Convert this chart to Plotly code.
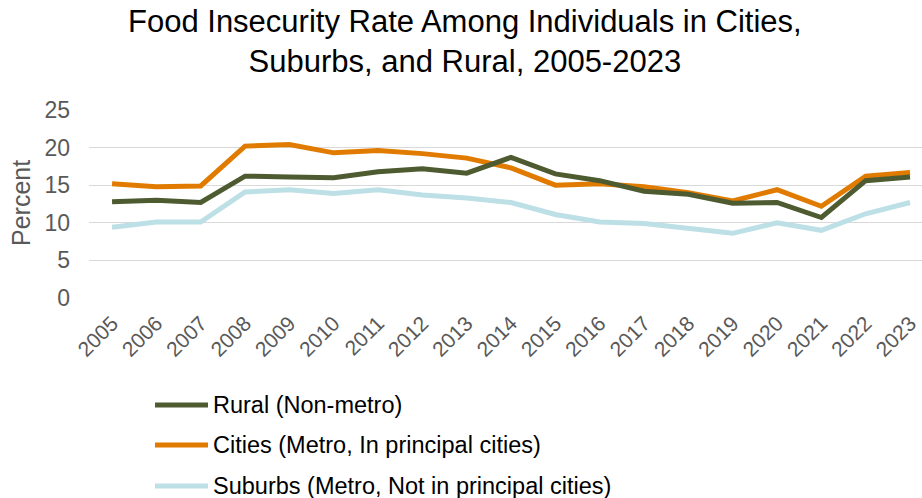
import plotly.graph_objects as go

# Food insecurity rate (percent of individuals) by residence area
years = list(range(2005, 2024))
rural = [12.8, 13.0, 12.7, 16.2, 16.1, 16.0, 16.8, 17.2, 16.6, 18.7,
         16.5, 15.6, 14.2, 13.8, 12.6, 12.7, 10.7, 15.6, 16.1]
cities = [15.2, 14.8, 14.9, 20.2, 20.4, 19.3, 19.6, 19.2, 18.6, 17.3,
          15.0, 15.2, 14.8, 14.0, 12.9, 14.4, 12.2, 16.2, 16.7]
suburbs = [9.4, 10.1, 10.1, 14.1, 14.4, 13.9, 14.4, 13.7, 13.3, 12.7,
           11.1, 10.1, 9.9, 9.2, 8.6, 10.0, 9.0, 11.2, 12.7]

series_names = ["Rural (Non-metro)",
                "Cities (Metro, In principal cities)",
                "Suburbs (Metro, Not in principal cities)"]
series_values = [rural, cities, suburbs]
series_colors = ["#4E5B31", "#E07B00", "#BDDFE6"]

TITLE = ("Food Insecurity Rate Among Individuals in Cities,<br>"
         "Suburbs, and Rural, 2005-2023")

W, H = 922, 498
L, R, T, B = 89, 0, 110, 200
PW, PH = W - L - R, H - T - B

FONT = "Liberation Sans, Arial, sans-serif"
GREY = "#595959"

fig = go.Figure()
# draw the lightest line first so the darker ones sit on top
for name, vals, col in reversed(list(zip(series_names, series_values, series_colors))):
    fig.add_trace(go.Scatter(
        x=years, y=vals, name=name, mode="lines",
        line=dict(color=col, width=5), showlegend=False,
    ))


def px_x(px):
    return (px - L) / PW


def px_y(py):
    return (H - B - py) / PH


# legend: line swatch plus label for each series
legend_rows = [405, 445, 486]
shapes, annotations = [], []
for name, col, ry in zip(series_names, series_colors, legend_rows):
    shapes.append(dict(type="line", xref="paper", yref="paper",
                       x0=px_x(155), x1=px_x(208), y0=px_y(ry), y1=px_y(ry),
                       line=dict(color=col, width=5)))
    annotations.append(dict(xref="paper", yref="paper", x=px_x(211), y=px_y(ry),
                            text=name, showarrow=False, xanchor="left",
                            yanchor="middle",
                            font=dict(family=FONT, size=23.5, color="#000000")))

# y-axis title
annotations.append(dict(xref="paper", yref="paper", x=px_x(21), y=px_y(203),
                        text="Percent", showarrow=False, textangle=-90,
                        xanchor="center", yanchor="middle",
                        font=dict(family=FONT, size=25, color=GREY)))

# chart title, centred on the full width
annotations.append(dict(xref="paper", yref="paper", x=px_x(W / 2 + 4), y=px_y(2),
                        text=TITLE, showarrow=False, xanchor="center",
                        yanchor="top", align="center",
                        font=dict(family=FONT, size=31, color="#000000")))

fig.update_layout(
    width=W, height=H,
    margin=dict(l=L, r=R, t=T, b=B, pad=0),
    paper_bgcolor="white", plot_bgcolor="white",
    shapes=shapes, annotations=annotations,
    showlegend=False,
)
fig.update_xaxes(
    range=[2004.48, 2023.27], tickmode="array", tickvals=years,
    ticktext=[str(y) for y in years], tickangle=-45,
    tickfont=dict(family=FONT, size=21, color=GREY),
    showgrid=False, zeroline=False, showline=False, ticks="",
    ticklabelstandoff=8,
)
fig.update_yaxes(
    range=[0, 25], tickvals=[0, 5, 10, 15, 20, 25],
    tickfont=dict(family=FONT, size=23, color=GREY),
    showgrid=True, gridcolor="#D9D9D9", gridwidth=1.3,
    zeroline=False, showline=False, ticks="", ticklabelstandoff=18,
)

fig.write_html("out.html")
